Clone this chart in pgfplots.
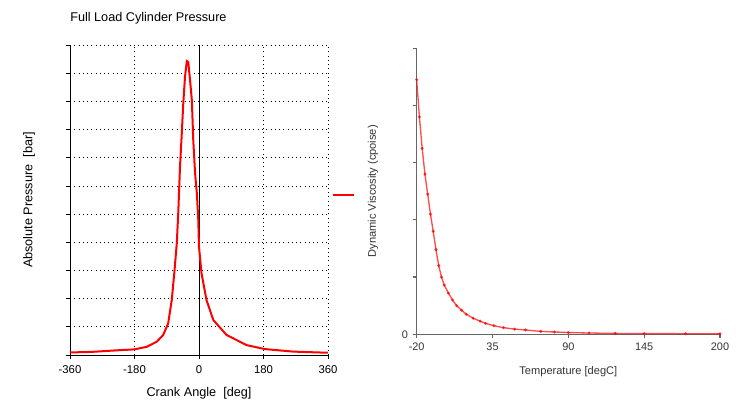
\documentclass[border=0pt]{standalone}
\usepackage{fontspec}
\setmainfont{Liberation Sans}
\usepackage{pgfplots}
\pgfplotsset{compat=1.18}

% cylinder pressure vs crank angle
\pgfplotstableread{
ang   p
-360  0.9
-300  1.1
-250  1.5
-180  2.0
-146  2.9
-118  4.7
-100  7.1
-86   11.2
-76   19.5
-69   29
-62   39.6
-58   50
-53   66.8
-48   78.7
-44   89
-39   98.8
-34   104.3
-30   104
-25   97.6
-20   90.5
-16   76.3
-11   64.6
-6    57.4
-2    48
0     38.4
7     29
21    19.5
40    12.4
77    7.1
133   3.5
184   2.1
263   1.2
360   0.8
}\pressure

% oil viscosity vs temperature
\pgfplotstableread{
T     mu
-20   4.45
-18   3.80
-16   3.25
-14   2.80
-12   2.45
-10   2.10
-8    1.80
-6    1.48
-4    1.20
-2    1.00
0     0.86
3     0.72
6     0.60
9     0.50
12.6  0.42
16    0.35
21    0.28
26    0.23
30    0.19
36    0.15
43    0.115
51    0.09
59    0.075
70    0.05
80    0.04
90    0.03
105   0.022
124   0.015
145   0.012
175   0.010
200   0.008
}\visc

\begin{document}
\begin{tikzpicture}
\path[use as bounding box] (0pt,0pt) rectangle (552pt,300pt);

\begin{axis}[
    at={(52.5pt,33.75pt)}, anchor=south west,
    scale only axis, width=193.5pt, height=232.5pt,
    xmin=-360, xmax=360, ymin=0, ymax=110,
    axis x line*=bottom, axis y line*=left,
    axis line style={-, black, line width=0.6pt},
    xtick={-360,-180,0,180,360},
    ytick={0,10,...,110}, yticklabels={},
    tick align=outside, major tick length=3pt,
    tick style={black, line width=0.5pt},
    grid=major,
    grid style={black, line width=0.5pt, dash pattern=on 0.6pt off 2.6pt},
    extra x ticks={0}, extra x tick labels={},
    extra x tick style={grid=major, grid style={solid, black, line width=0.6pt}, major tick length=0pt},
    /pgf/number format/assume math mode=true,
    tick label style={font=\fontsize{8.5}{10}\selectfont},
    xticklabel style={yshift=-1.5pt},
    label style={font=\fontsize{9.5}{11}\selectfont},
    every axis title shift=0pt,
    title style={font=\fontsize{9.5}{11}\selectfont, at={(axis description cs:0,1.085)}, anchor=west, inner xsep=0pt},
    title={Full Load Cylinder Pressure},
    xlabel={Crank Angle\ \ [deg]},
    ylabel={Absolute Pressure\ \ [bar]},
    xlabel style={at={(axis description cs:0.5,-0.122)}, anchor=center},
    ylabel style={at={(axis description cs:-0.159,0.5)}, anchor=center},
    legend style={at={(axis description cs:1.014,0.516)}, anchor=west,
        draw=none, fill=none, inner sep=0pt},
    legend image code/.code={\draw[#1] (0pt,0pt) -- (16pt,0pt);},
]
\addplot[red, line width=1.5pt] table[x=ang, y=p] {\pressure};
\addlegendentry{}
\end{axis}

\begin{axis}[
    at={(312.5pt,49.3pt)}, anchor=south west,
    scale only axis, width=227.5pt, height=214.5pt,
    xmin=-20, xmax=200, ymin=0, ymax=5,
    axis x line=bottom, axis y line=left,
    axis line style={-, black!60, line width=1pt},
    xtick={-20,35,90,145,200},
    ytick={0,1,...,5}, yticklabels={0,,,,,},
    tick align=outside, major tick length=3pt,
    tick style={black!60, line width=0.9pt},
    /pgf/number format/assume math mode=true,
    tick label style={font=\fontsize{8.2}{9}\selectfont, text=black!80},
    label style={font=\fontsize{8.3}{9.5}\selectfont, text=black!80},
    xlabel={Temperature [degC]},
    ylabel={Dynamic Viscosity (cpoise)},
    xlabel style={at={(axis description cs:0.5,-0.131)}, anchor=center},
    ylabel style={at={(axis description cs:-0.144,0.5)}, anchor=center},
]
\addplot[red, line width=1pt, mark=*, mark size=0.55pt, opacity=0.7] table[x=T, y=mu] {\visc};
\end{axis}
\end{tikzpicture}
\end{document}
